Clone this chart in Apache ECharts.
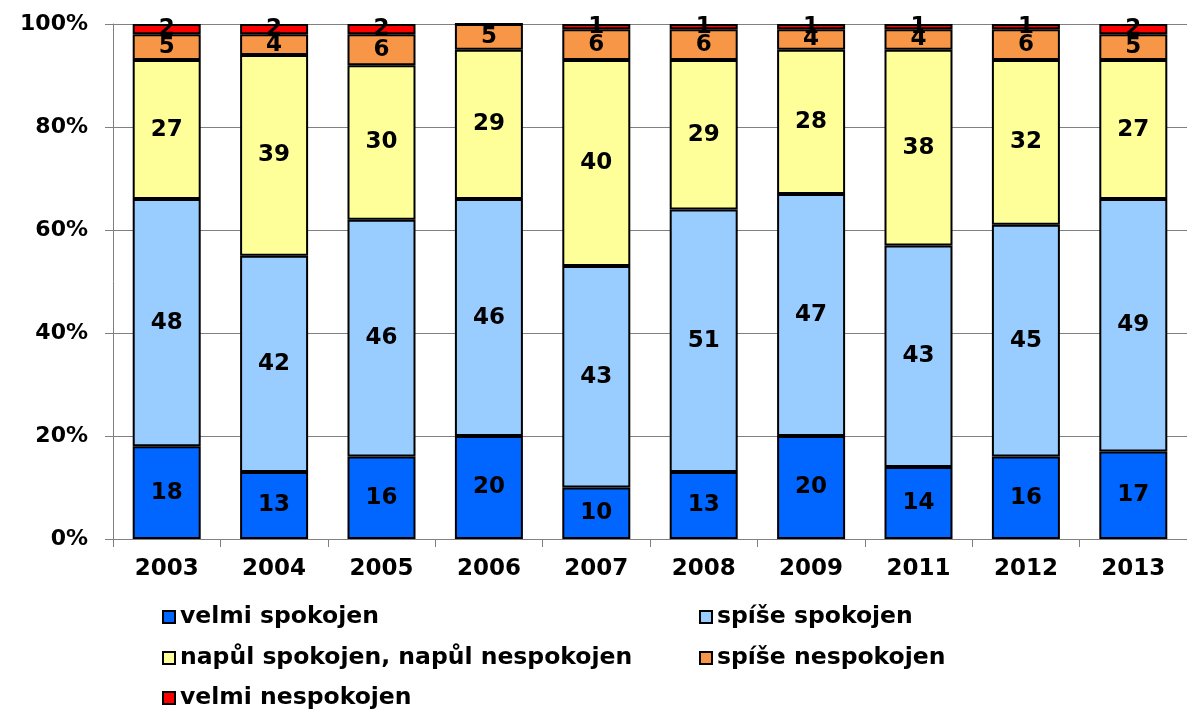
<!DOCTYPE html>
<html><head><meta charset="utf-8">
<script src="https://cdn.jsdelivr.net/npm/echarts@6/dist/echarts.min.js"></script>
<style>html,body{margin:0;padding:0;background:#fff}#c{width:1187px;height:711px}</style>
</head><body><div id="c"></div>
<script>
const categories = ['2003','2004','2005','2006','2007','2008','2009','2011','2012','2013'];
const velmiSpokojen   = [18,13,16,20,10,13,20,14,16,17];
const spiseSpokojen   = [48,42,46,46,43,51,47,43,45,49];
const napul           = [27,39,30,29,40,29,28,38,32,27];
const spiseNespokojen = [5,4,6,5,6,6,4,4,6,5];
const velmiNespokojen = [2,2,2,0,1,1,1,1,1,2];
const yTicks = [0,20,40,60,80,100];

const names = ['velmi spokojen','spíše spokojen','napůl spokojen, napůl nespokojen','spíše nespokojen','velmi nespokojen'];
const colors = ['#0066FF','#99CCFF','#FFFF99','#F79646','#FF0000'];
const datas = [velmiSpokojen, spiseSpokojen, napul, spiseNespokojen, velmiNespokojen];
const FONT = 'DejaVu Sans';

const chart = echarts.init(document.getElementById('c'), null, {renderer:'canvas'});
const series = names.map((n,i)=>({
  name:n, type:'bar', stack:'a', barWidth:68,
  data: datas[i],
  itemStyle:{color:colors[i], borderColor:'#000', borderWidth:2},
  label:{show:true, position:'inside', color:'#000', fontFamily:FONT, fontWeight:'bold', fontSize:23,
    formatter: p => p.value ? String(p.value) : ''},
  emphasis:{disabled:true}
}));
const legendText = {fontFamily:FONT, fontWeight:'bold', fontSize:23.5, color:'#000'};
const legendPos = [[162,605],[699,605],[162,646],[699,646],[162,686]];
const legends = names.map((n,i)=>({
  data:[n], left:legendPos[i][0], top:legendPos[i][1], itemWidth:12, itemHeight:12, itemGap:0, padding:0,
  icon:'rect', textStyle:legendText, itemStyle:{borderColor:'#000', borderWidth:2}, selectedMode:false
}));
chart.setOption({
  animation:false,
  grid:{left:113, top:24, width:1087, bottom:172, containLabel:false},
  legend: legends,
  xAxis:{type:'category', data:categories,
    axisLine:{lineStyle:{color:'#808080', width:1}},
    axisTick:{show:true, length:8, lineStyle:{color:'#808080'}},
    axisLabel:{color:'#000', fontFamily:FONT, fontWeight:'bold', fontSize:23, margin:19}},
  yAxis:{type:'value', min:0, max:100, interval:20,
    axisLine:{show:true, lineStyle:{color:'#808080'}},
    axisTick:{show:true, length:8, lineStyle:{color:'#808080'}},
    splitLine:{lineStyle:{color:'#808080', width:1}},
    axisLabel:{color:'#000', fontFamily:FONT, fontWeight:'bold', fontSize:22, margin:25,
      formatter: v => yTicks.includes(v) ? v + '%' : ''}},
  series: series
});
</script></body></html>
